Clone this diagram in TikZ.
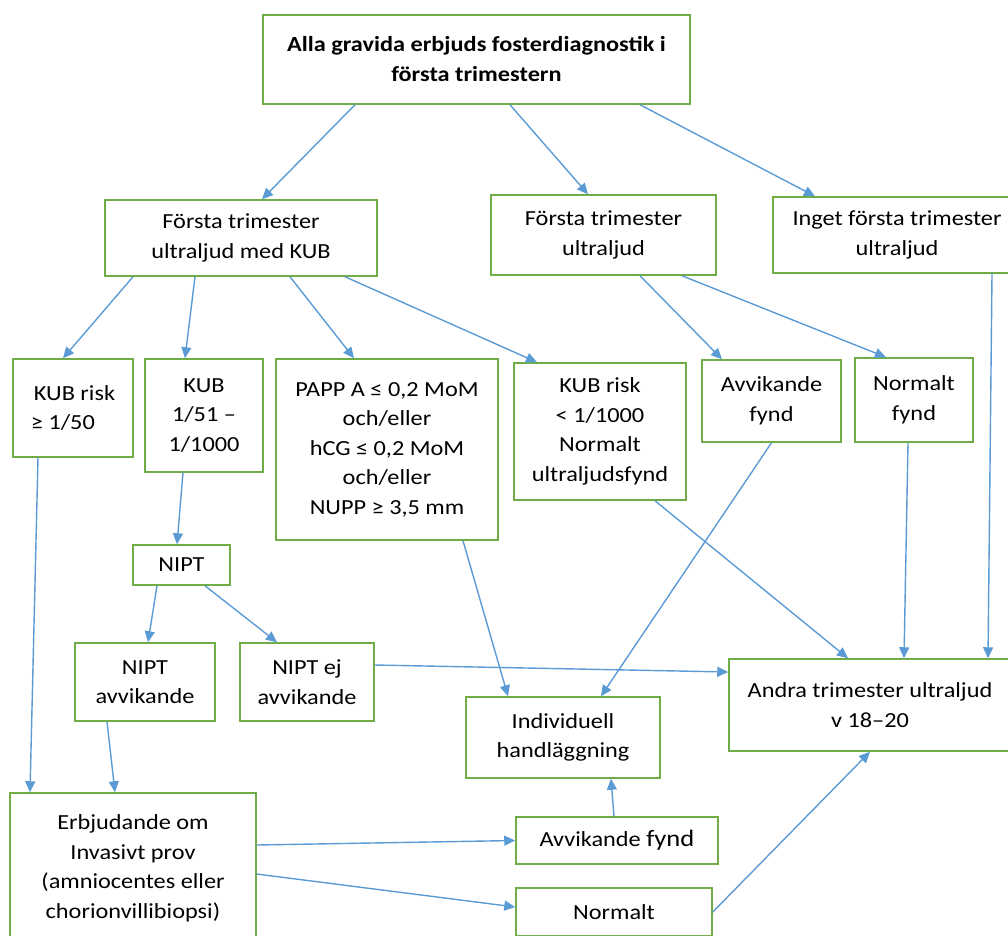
\documentclass[tikz,border=0pt]{standalone}
\usepackage{fontspec}
\setmainfont{Carlito}[FakeStretch=1.13]
\usetikzlibrary{arrows.meta}

\definecolor{boxgreen}{RGB}{112,173,71}
\definecolor{linkblue}{RGB}{91,155,213}

\tikzset{
  box/.style={
    draw=boxgreen,
    line width=1.5pt,
    inner sep=0pt,
    align=center,
    font=\fontsize{21.5}{29.5}\selectfont,
  },
  link/.style={
    draw=linkblue,
    line width=1.4pt,
    -{Triangle[length=11pt, width=10pt]},
  },
}

\begin{document}
\begin{tikzpicture}[x=1pt, y=-1pt]

  \clip (0,0) rectangle (1008,935);

  \node[box, font=\fontsize{21.5}{30}\selectfont\bfseries,
    minimum width=427, minimum height=89] (all) at (476.5,59.5)
    {Alla gravida erbjuds fosterdiagnostik i\\ första trimestern};

  \node[box, minimum width=272, minimum height=76] (kubus) at (241,238)
    {Första trimester\\ ultraljud med KUB};
  \node[box, minimum width=225, minimum height=80] (us) at (603.5,235)
    {Första trimester\\ ultraljud};
  \node[box, minimum width=248, minimum height=76] (nous) at (897,235)
    {Inget första trimester\\ ultraljud};

  \node[box, align=left, minimum width=120, minimum height=98] (high) at (73,408)
    {\hspace*{3pt}KUB risk\\ ≥ 1/50\hspace*{14pt}};
  \node[box, minimum width=118, minimum height=113] (mid) at (204,415.5)
    {KUB\\ 1/51 –\\ 1/1000};
  \node[box, minimum width=222, minimum height=181] (papp) at (387,449.5)
    {PAPP A ≤ 0,2 MoM\\ och/eller\\ hCG ≤ 0,2 MoM\\ och/eller\\ NUPP ≥ 3,5 mm};
  \node[box, minimum width=172, minimum height=137] (low) at (600,431.5)
    {KUB risk\\ < 1/1000\\ Normalt\\ ultraljudsfynd};
  \node[box, minimum width=139, minimum height=82] (usdev) at (771.5,401)
    {Avvikande\\ fynd};
  \node[box, minimum width=118, minimum height=84] (usnorm) at (914,400)
    {Normalt\\ fynd};

  \node[box, minimum width=97, minimum height=40] (nipt) at (181.5,565)
    {NIPT};
  \node[box, minimum width=140, minimum height=78] (niptdev) at (145,682)
    {NIPT\\ avvikande};
  \node[box, minimum width=134, minimum height=78] (niptok) at (307,682)
    {NIPT ej\\ avvikande};

  \node[box, minimum width=194, minimum height=81] (indiv) at (563,737.5)
    {Individuell\\ handläggning};
  \node[box, minimum width=282, minimum height=92] (second) at (870,705)
    {Andra trimester ultraljud\\ v 18–20};

  \node[box, minimum width=246, minimum height=150] (invasive) at (133,868)
    {Erbjudande om\\ Invasivt prov\\ (amniocentes eller\\ chorionvillibiopsi)};
  \node[box, minimum width=202, minimum height=47] (invdev) at (617,840.5)
    {Avvikande {\fontsize{23.5}{29.5}\selectfont fynd}};
  \node[box, minimum width=196, minimum height=48] (invnorm) at (614,912)
    {Normalt};

  \draw[link] ([xshift=-121.5pt]all.south) -- ([xshift=21pt]kubus.north);
  \draw[link] ([xshift=33.5pt]all.south) -- ([xshift=-15.5pt]us.north);
  \draw[link] ([xshift=163.5pt]all.south) -- ([xshift=-82pt]nous.north);

  \draw[link] ([xshift=-108pt]kubus.south) -- ([xshift=-10pt]high.north);
  \draw[link] ([xshift=-46pt]kubus.south) -- ([xshift=-19pt]mid.north);
  \draw[link] ([xshift=49pt]kubus.south) -- ([xshift=-33pt]papp.north);
  \draw[link] ([xshift=104pt]kubus.south) -- ([xshift=-63pt]low.north);

  \draw[link] ([xshift=36.5pt]us.south) -- ([xshift=-49.5pt]usdev.north);
  \draw[link] ([xshift=78.5pt]us.south) -- ([xshift=-28pt]usnorm.north);

  \draw[link] ([xshift=95pt]nous.south) -- ([xshift=118pt]second.north);
  \draw[link] ([xshift=-6pt]usnorm.south) -- ([xshift=34pt]second.north);
  \draw[link] ([xshift=55pt]low.south) -- ([xshift=-22pt]second.north);

  \draw[link] (usdev.south) -- ([xshift=38pt]indiv.north);
  \draw[link] ([xshift=76pt]papp.south) -- ([xshift=-55pt]indiv.north);

  \draw[link] ([xshift=-21pt]mid.south) -- ([xshift=-4.5pt]nipt.north);
  \draw[link] ([xshift=-24.5pt]nipt.south) -- ([xshift=3pt]niptdev.north);
  \draw[link] ([xshift=23.5pt]nipt.south) -- ([xshift=-30pt]niptok.north);
  \draw[link] ([yshift=17pt]niptok.east) -- ([yshift=33pt]second.west);

  \draw[link] ([xshift=-38pt]niptdev.south) -- ([xshift=-18pt]invasive.north);
  \draw[link] ([xshift=-35pt]high.south) -- ([xshift=-103pt]invasive.north);

  \draw[link] ([yshift=23pt]invasive.east) -- (invdev.west);
  \draw[link] ([yshift=-6pt]invasive.east) -- ([yshift=5pt]invnorm.west);
  \draw[link] ([xshift=-3pt]invdev.north) -- ([xshift=48pt]indiv.south);
  \draw[link] (invnorm.east) -- (second.south);

\end{tikzpicture}
\end{document}
